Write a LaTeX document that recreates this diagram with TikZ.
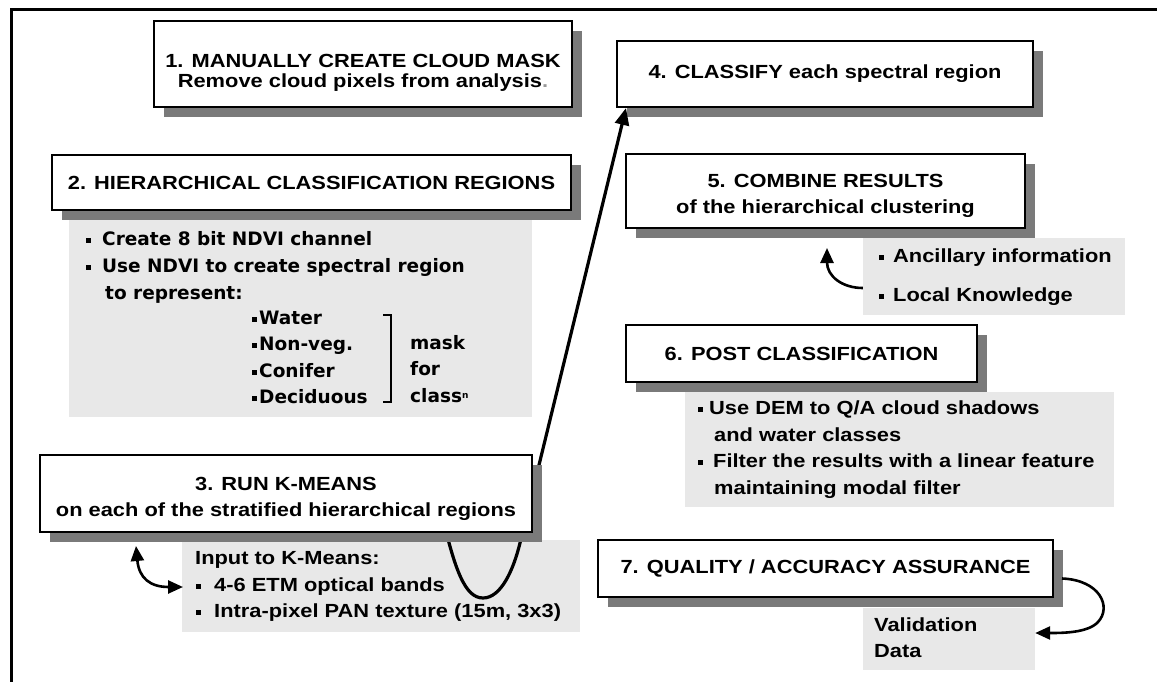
\documentclass[tikz,border=0pt]{standalone}
\usepackage{fontspec}
\usepackage{xcolor}
\usepackage{tikz}
\usetikzlibrary{arrows.meta,shadows}

\newfontfamily\boxfont{Liberation Sans}[FakeStretch=1.15]
\newfontfamily\listfont{DejaVu Sans}
\newcommand{\bsq}{\rule[2.5pt]{5pt}{5pt}}

\begin{document}
\begin{tikzpicture}[x=1pt,y=-1pt,
    step box/.style={draw,line width=2pt,fill=white,inner sep=2pt,align=center,
        font=\boxfont\bfseries\fontsize{19}{26}\selectfont,
        drop shadow={shadow xshift=10pt,shadow yshift=-10pt,fill=black!52,opacity=1}},
    info panel/.style={fill=black!9,inner sep=0pt},
    item text/.style={anchor=west,inner sep=0pt,text height=10pt,text depth=2pt,
        font=\boxfont\bfseries\fontsize{19}{23}\selectfont},
    dv text/.style={item text,font=\listfont\bfseries\fontsize{18.5}{22}\selectfont},
    flow arrow/.style={line width=3.2pt,-{Triangle[length=17pt,width=14pt]}},
    bend arrow/.style={line width=2.6pt,-{Triangle[length=15pt,width=13pt]}}]

\useasboundingbox (0,0) rectangle (1157,682);
\fill[white] (0,0) rectangle (1157,682);

%Frame
\draw[line width=3pt] (11,682) -- (11,10) -- (1157,10);

%Grey panels
\node[info panel,minimum width=463pt,minimum height=205pt] (panel2) at (300.5,314.5) {};
\node[info panel,minimum width=398pt,minimum height=92pt] (panel3) at (381,586) {};
\node[info panel,minimum width=262pt,minimum height=77pt] (panel5) at (994,276.5) {};
\node[info panel,minimum width=429pt,minimum height=115pt] (panel6) at (899.5,449.5) {};
\node[info panel,minimum width=172pt,minimum height=62pt] (panel7) at (949,639) {};

%Main arrow, goes under box 3
\coordinate (uin) at (442,515);
\coordinate (ubot) at (483,598);
\coordinate (uup) at (520,543);

%Steps
\node[step box,minimum width=418pt,minimum height=86pt,text height=50.6pt,
    font=\boxfont\bfseries\fontsize{19}{20}\selectfont] (box1) at (363,64)
    {1. MANUALLY CREATE CLOUD MASK\\Remove cloud pixels from analysis{\color{black!40}.}};
\node[step box,minimum width=519pt,minimum height=55pt] (box2) at (311.5,182.5)
    {2. HIERARCHICAL CLASSIFICATION REGIONS};
\node[step box,minimum width=416pt,minimum height=66pt] (box4) at (825,74)
    {4. CLASSIFY each spectral region};
\node[step box,minimum width=399pt,minimum height=74pt,text height=49.6pt] (box5) at (825.5,191)
    {5. COMBINE RESULTS\\of the hierarchical clustering};
\node[step box,minimum width=351pt,minimum height=57pt] (box6) at (801.5,353.5)
    {6. POST CLASSIFICATION};
\node[step box,minimum width=455pt,minimum height=57pt] (box7) at (825.5,568.5)
    {7. QUALITY / ACCURACY ASSURANCE};

\draw[flow arrow] (uin) .. controls (455,570) and (465,598) .. (ubot)
    .. controls (501,598) and (513.4,570) .. (uup) -- ([xshift=10pt]box4.south west);

\node[step box,minimum width=492pt,minimum height=77pt,text height=49.6pt] (box3) at (286,493.5)
    {3. RUN K-MEANS\\on each of the stratified hierarchical regions};

%Panel 2 text
\node[dv text] (p2a) at (86,241) {\bsq\hspace{11pt}Create 8 bit NDVI channel};
\node[dv text] (p2b) at (86,268) {\bsq\hspace{11pt}Use NDVI to create spectral region};
\node[dv text] (p2c) at (105,295) {to represent:};
\foreach \t/\y [count=\i] in {Water/320,Non-veg./346,Conifer/373,Deciduous/399}
    \node[dv text] (cls\i) at (252,\y) {\bsq\hspace{2pt}\t};
\draw[line width=2pt] (383,315) -- (391,315) -- (391,402) -- (383,402);
\node[dv text] (mask1) at (410,345) {mask};
\node[dv text] (mask2) at (410,371) {for};
\node[dv text] (mask3) at (410,398) {class{\fontsize{9}{9}\selectfont\raisebox{4pt}{n}}};

%Panel 3 text
\node[item text] (p3a) at (195,560) {Input to K-Means:};
\node[item text] (p3b) at (196,587) {\bsq\hspace{13pt}4-6 ETM optical bands};
\node[item text] (p3c) at (196,613) {\bsq\hspace{13pt}Intra-pixel PAN texture (15m, 3x3)};

%Panel 5 text
\node[item text] (p5a) at (879,258) {\bsq\hspace{9pt}Ancillary information};
\node[item text] (p5b) at (879,297) {\bsq\hspace{9pt}Local Knowledge};

%Panel 6 text
\node[item text] (p6a) at (698,410) {\bsq\hspace{6pt}Use DEM to Q/A cloud shadows};
\node[item text] (p6b) at (714,437) {and water classes};
\node[item text] (p6c) at (698,463) {\bsq\hspace{10pt}Filter the results with a linear feature};
\node[item text] (p6d) at (714,490) {maintaining modal filter};

%Panel 7 text
\node[item text] (p7a) at (874,627) {Validation};
\node[item text] (p7b) at (874,653) {Data};

%Side arrows
\draw[bend arrow,{Triangle[length=15pt,width=13pt]}-{Triangle[length=15pt,width=13pt]}]
    ([xshift=97pt,yshift=-13pt]box3.south west) .. controls (139,578) and (150,587)
    .. ([xshift=-13pt]p3b.west);
\draw[bend arrow] ([yshift=-11.5pt]panel5.west) .. controls (842,288) and (827,276)
    .. ([xshift=1.5pt,yshift=-19pt]box5.south);
\draw[bend arrow] ([xshift=8pt,yshift=-10pt]box7.east) .. controls (1100,580) and (1112,607)
    .. (1098,622) .. controls (1088,633) and (1062,633) .. ([yshift=6pt]panel7.east);

\end{tikzpicture}
\end{document}
